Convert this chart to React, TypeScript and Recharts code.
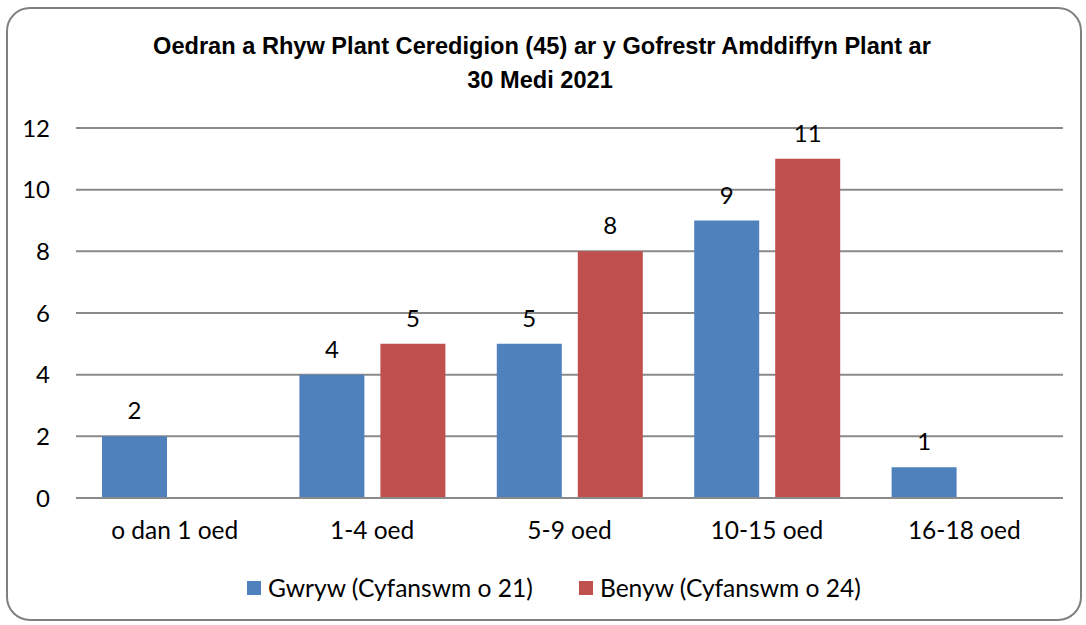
import React from "react";
import { BarChart, Bar, XAxis, YAxis, CartesianGrid, LabelList } from "recharts";

const categories = ["o dan 1 oed", "1-4 oed", "5-9 oed", "10-15 oed", "16-18 oed"];
const gwrywValues: (number | null)[] = [2, 4, 5, 9, 1];
const benywValues: (number | null)[] = [null, 5, 8, 11, null];
const yTicks = [0, 2, 4, 6, 8, 10, 12];
const seriesNames = ["Gwryw (Cyfanswm o 21)", "Benyw (Cyfanswm o 24)"];
const seriesColors = ["#4F81BD", "#C0504D"];
const titleLines = ["Oedran a Rhyw Plant Ceredigion (45) ar y Gofrestr Amddiffyn Plant ar", "30 Medi 2021"];

const data = categories.map((c, i) => ({ name: c, gwryw: gwrywValues[i], benyw: benywValues[i] }));

const FONT = "Lato, 'Open Sans', sans-serif";

export default function App() {
  return (
    <div style={{ position: "absolute", left: 0, top: 0, width: 1086, height: 625, background: "#fff", fontFamily: FONT }}>
      <div
        style={{
          position: "absolute",
          left: 6,
          top: 7,
          width: 1076,
          height: 614,
          boxSizing: "border-box",
          border: "2.5px solid #808080",
          borderRadius: 24,
        }}
      />
      <div
        style={{
          position: "absolute",
          left: 0,
          top: 29,
          width: 1086,
          textAlign: "center",
          fontFamily: "'Liberation Sans Narrow', 'Arial Narrow', sans-serif",
          fontWeight: "bold",
          fontSize: 23.6,
          lineHeight: "34px",
          color: "#000",
        }}
      >
        {titleLines.map((t, i) => (
          <div key={i} style={{ position: "relative", left: i === 0 ? -1 : -3 }}>{t}</div>
        ))}
      </div>
      <div style={{ position: "absolute", left: 0, top: 0 }}>
        <BarChart
          width={1086}
          height={625}
          data={data}
          margin={{ top: 128, right: 23, bottom: 67, left: 0 }}
          barSize={65}
          barGap={16}
        >
          <CartesianGrid vertical={false} stroke="#8a8a8a" strokeWidth={2} />
          <XAxis
            dataKey="name"
            height={60}
            tickLine={false}
            axisLine={{ stroke: "#8a8a8a", strokeWidth: 2 }}
            tickSize={0}
            tickMargin={24}
            tick={{ fill: "#000", fontSize: 24.5, fontFamily: FONT }}
            interval={0}
          />
          <YAxis
            width={76}
            domain={[0, 12]}
            ticks={yTicks}
            axisLine={false}
            tickLine={false}
            tickSize={0}
            tickMargin={26}
            tick={{ fill: "#000", fontSize: 24, fontFamily: FONT }}
          />
          <Bar dataKey="gwryw" name={seriesNames[0]} fill={seriesColors[0]} isAnimationActive={false}>
            <LabelList dataKey="gwryw" position="top" offset={17} fill="#000" fontSize={24} fontFamily={FONT} />
          </Bar>
          <Bar dataKey="benyw" name={seriesNames[1]} fill={seriesColors[1]} isAnimationActive={false}>
            <LabelList dataKey="benyw" position="top" offset={17} fill="#000" fontSize={24} fontFamily={FONT} />
          </Bar>
        </BarChart>
      </div>
      <div
        style={{
          position: "absolute",
          left: 0,
          top: 573,
          width: 1086,
          display: "flex",
          justifyContent: "center",
          alignItems: "center",
          fontSize: 24.6,
          color: "#000",
          paddingLeft: 22,
          boxSizing: "border-box",
        }}
      >
        {seriesNames.map((n, i) => (
          <div key={i} style={{ display: "flex", alignItems: "center", marginRight: i === 0 ? 46 : 0 }}>
            <span style={{ display: "inline-block", width: 14, height: 14, background: seriesColors[i], marginRight: 7 }} />
            <span>{n}</span>
          </div>
        ))}
      </div>
    </div>
  );
}
